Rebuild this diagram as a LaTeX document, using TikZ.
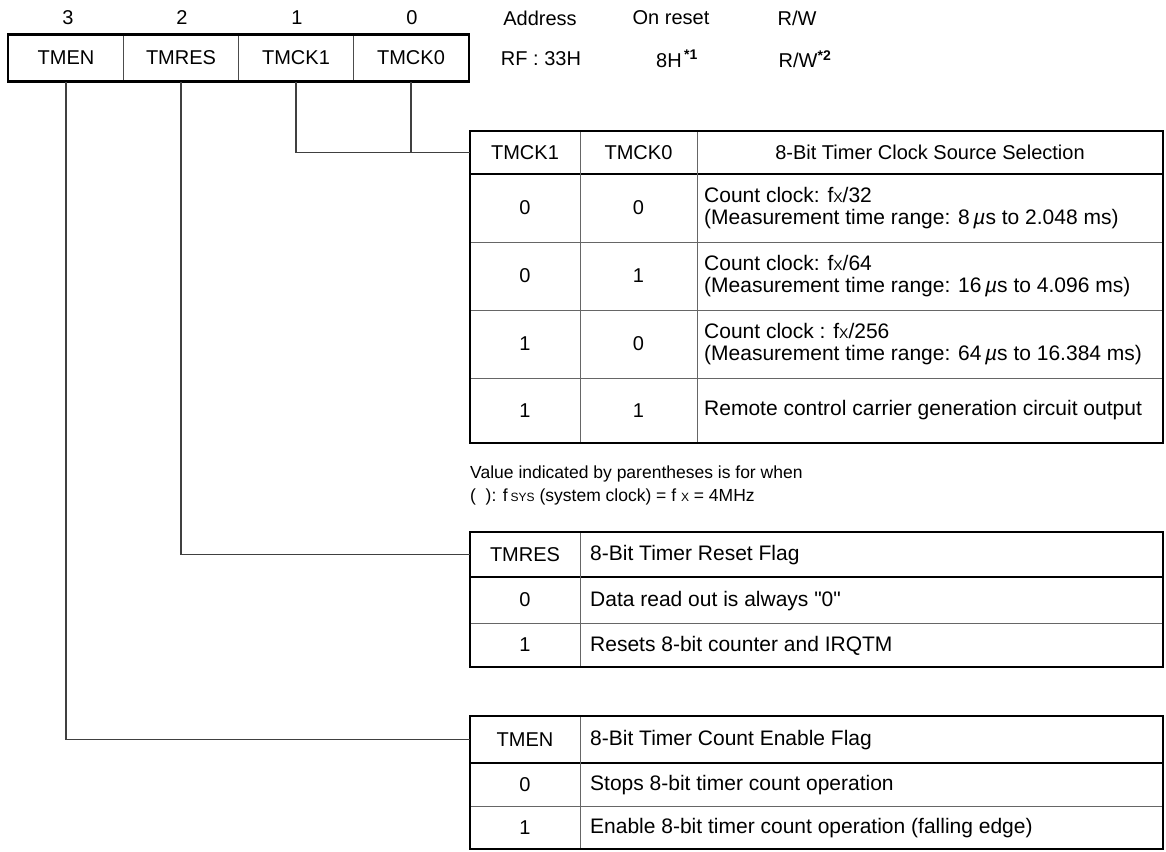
\documentclass[tikz,border=0pt]{standalone}
\usepackage{fontspec}
\setmainfont{Liberation Sans}
\newcommand{\smx}[1]{{\fontsize{14}{14}\selectfont #1}}
\newcommand{\mus}{\,\textit{µ}s}
\begin{document}
\begin{tikzpicture}[x=1pt,y=-1pt,
  font=\fontsize{20}{22}\selectfont,
  outer/.style={draw=black,line width=2.6pt},
  sepline/.style={draw=black!60,line width=1pt},
  thicksep/.style={draw=black,line width=2pt},
  conn/.style={draw=black!75,line width=1.1pt},
  lbl/.style={inner sep=0pt,anchor=center},
  desc/.style={inner sep=0pt,anchor=west,align=left,font=\fontsize{21}{22}\selectfont},
  notetxt/.style={inner sep=0pt,anchor=west,align=left,font=\fontsize{17.5}{20}\selectfont},
  regcell/.style={draw=black!70,line width=1pt,minimum width=115pt,minimum height=46pt,inner sep=0pt},
  hcell/.style={inner sep=0pt,minimum height=43pt}]
\useasboundingbox (0,0) rectangle (1166,851);

% ---- bit numbers and header labels
\node[lbl] (b3) at (68,18) {3};
\node[lbl] (b2) at (182,18) {2};
\node[lbl] (b1) at (297,18) {1};
\node[lbl] (b0) at (412,18) {0};
\node[lbl] (hAddr) at (540,18) {Address};
\node[lbl] (hRes) at (671,18) {On reset};
\node[lbl] (hRW) at (797,18) {R/W};

% ---- register
\node[regcell] (rTMEN) at (66,58) {TMEN};
\node[regcell] (rTMRES) at (181,58) {TMRES};
\node[regcell] (rTMCK1) at (296,58) {TMCK1};
\node[regcell] (rTMCK0) at (411,58) {TMCK0};
\draw[outer] (rTMEN.north west) rectangle (rTMCK0.south east);
\node[lbl] (vAddr) at (541,59) {RF : 33H};
\node[lbl] (vRes) at (677,59) {8H\textsuperscript{\,\bfseries *1}};
\node[lbl] (vRW) at (805,59) {R/W\textsuperscript{\bfseries *2}};

% ---- table 1
\node[hcell,minimum width=110pt] (t1h1) at (525,152.5) {TMCK1};
\node[hcell,minimum width=117pt] (t1h2) at (638.5,152.5) {TMCK0};
\node[hcell,minimum width=466pt] (t1h3) at (930,152.5) {8-Bit Timer Clock Source Selection};
\draw[thicksep] (470,174) -- (1163,174);
\draw[sepline] (470,242) -- (1163,242);
\draw[sepline] (470,310) -- (1163,310);
\draw[sepline] (470,378) -- (1163,378);
\draw[sepline] (580,131) -- (580,443);
\draw[sepline] (697,131) -- (697,443);
\draw[outer] (470,131) rectangle (1163,443);
\node[lbl] (t1a1) at (525,208) {0};
\node[lbl] (t1b1) at (638.5,208) {0};
\node[desc] (t1c1) at (704,208) {Count clock: f\smx{X}/32\\(Measurement time range: 8\mus\ to 2.048 ms)};
\node[lbl] (t1a2) at (525,276) {0};
\node[lbl] (t1b2) at (638.5,276) {1};
\node[desc] (t1c2) at (704,276) {Count clock: f\smx{X}/64\\(Measurement time range: 16\mus\ to 4.096 ms)};
\node[lbl] (t1a3) at (525,344) {1};
\node[lbl] (t1b3) at (638.5,344) {0};
\node[desc] (t1c3) at (704,344) {Count clock : f\smx{X}/256\\(Measurement time range: 64\mus\ to 16.384 ms)};
\node[lbl] (t1a4) at (525,410.5) {1};
\node[lbl] (t1b4) at (638.5,410.5) {1};
\node[desc] (t1c4) at (704,410.5) {Remote control carrier generation circuit output};

% ---- note
\node[notetxt] (note1) at (470,474) {Value indicated by parentheses is for when};
\node[notetxt] (note2) at (470,497) {(\ \ ): f\,{\fontsize{12}{12}\selectfont SYS} (system clock) = f {\fontsize{12}{12}\selectfont X} = 4MHz};

% ---- table 2
\node[hcell,minimum width=110pt,minimum height=45pt] (t2h1) at (525,554.5) {TMRES};
\node[desc] (t2h2) at (590,555.5) {8-Bit Timer Reset Flag};
\draw[thicksep] (470,577) -- (1163,577);
\draw[sepline] (470,623) -- (1163,623);
\draw[sepline] (580,532) -- (580,667);
\draw[outer] (470,532) rectangle (1163,667);
\node[lbl] (t2a1) at (525,600) {0};
\node[desc] (t2b1) at (590,601) {Data read out is always \textquotedbl 0\textquotedbl};
\node[lbl] (t2a2) at (525,645) {1};
\node[desc] (t2b2) at (590,646) {Resets 8-bit counter and IRQTM};

% ---- table 3
\node[hcell,minimum width=110pt,minimum height=47pt] (t3h1) at (525,739.5) {TMEN};
\node[desc] (t3h2) at (590,740.5) {8-Bit Timer Count Enable Flag};
\draw[thicksep] (470,763) -- (1163,763);
\draw[sepline] (470,806) -- (1163,806);
\draw[sepline] (580,716) -- (580,849);
\draw[outer] (470,716) rectangle (1163,849);
\node[lbl] (t3a1) at (525,784.5) {0};
\node[desc] (t3b1) at (590,785.5) {Stops 8-bit timer count operation};
\node[lbl] (t3a2) at (525,827.5) {1};
\node[desc] (t3b2) at (590,828.5) {Enable 8-bit timer count operation (falling edge)};

% ---- connectors
\draw[conn] (rTMCK1.south) |- (t1h1.west);
\draw[conn] (rTMCK0.south) -- (rTMCK0.south |- t1h1.west);
\draw[conn] (rTMRES.south) |- (t2h1.west);
\draw[conn] (rTMEN.south) |- (t3h1.west);
\end{tikzpicture}
\end{document}
